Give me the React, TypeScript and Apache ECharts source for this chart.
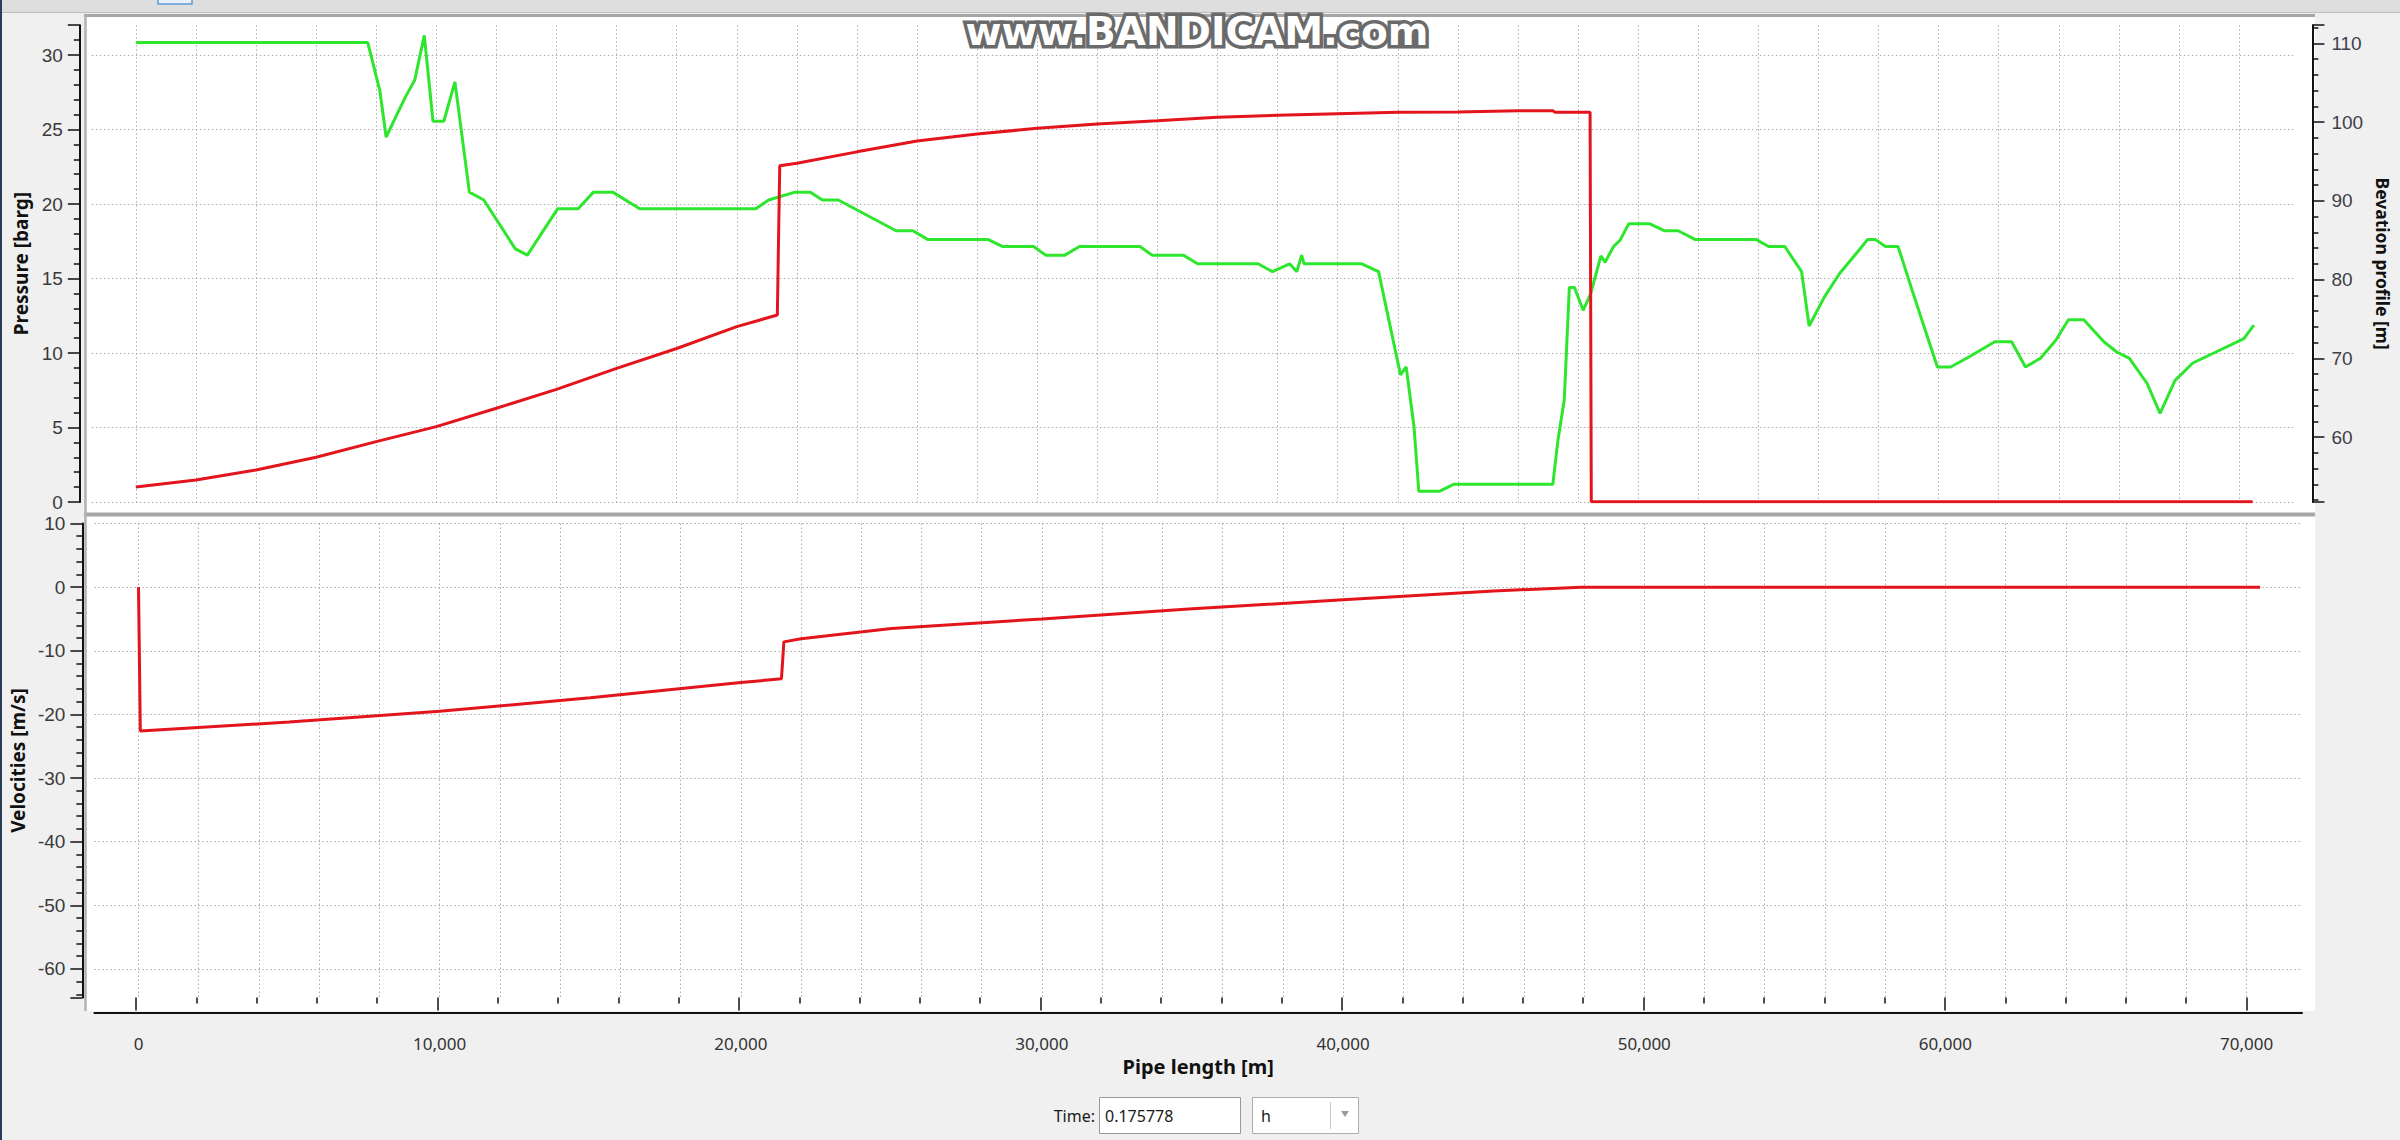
import React, { useEffect, useRef } from "react";
import * as echarts from "echarts";

// ---------------- data (pipe length [m], value) ----------------
const elevationProfile: [number, number][] = [
  [0, 110.1], [7720, 110.1], [8120, 104.0], [8330, 98.1], [8960, 103.1], [9280, 105.3],
  [9600, 111.0], [9890, 100.1], [10250, 100.1], [10620, 105.1], [11100, 91.1], [11580, 90.1],
  [12630, 83.9], [13030, 83.1], [14040, 89.0], [14720, 89.0], [15230, 91.1], [15870, 91.1],
  [16770, 89.0], [20630, 89.0], [21060, 90.1], [21940, 91.1], [22450, 91.1], [22850, 90.1],
  [23380, 90.1], [25300, 86.2], [25860, 86.2], [26350, 85.1], [28350, 85.1], [28840, 84.2],
  [29880, 84.2], [30280, 83.1], [30920, 83.1], [31410, 84.2], [33420, 84.2], [33820, 83.1],
  [34860, 83.1], [35340, 82.0], [37350, 82.0], [37830, 81.0], [38400, 82.0], [38640, 81.0],
  [38800, 83.1], [38880, 82.0], [40800, 82.0], [41360, 81.0], [42090, 67.9], [42280, 68.9],
  [42540, 61.3], [42700, 53.1], [43380, 53.1], [43860, 54.0], [47160, 54.0], [47330, 59.6],
  [47540, 64.7], [47710, 79.0], [47880, 79.0], [48170, 76.1], [48420, 78.2], [48760, 83.0],
  [48900, 82.2], [49180, 84.2], [49400, 85.0], [49690, 87.1], [50370, 87.1], [50870, 86.2],
  [51330, 86.2], [51890, 85.1], [53920, 85.1], [54340, 84.2], [54880, 84.2], [55440, 81.0],
  [55690, 74.1], [56200, 77.8], [56710, 80.8], [57300, 83.5], [57640, 85.1], [57890, 85.1],
  [58230, 84.2], [58650, 84.2], [59080, 79.1], [59500, 74.2], [59960, 68.9], [60400, 68.9],
  [61020, 70.2], [61870, 72.1], [62430, 72.1], [62890, 68.9], [63390, 70.0], [63900, 72.3],
  [64320, 74.9], [64830, 74.9], [65500, 72.1], [65930, 70.8], [66350, 70.0], [66940, 66.8],
  [67370, 63.0], [67870, 67.2], [68460, 69.4], [69230, 70.8], [70160, 72.5], [70490, 74.2],
];

const pressureProfile: [number, number][] = [
  [0, 1.0], [2000, 1.48], [4000, 2.15], [6000, 3.0], [8000, 4.05], [10000, 5.06],
  [12000, 6.29], [14000, 7.56], [16000, 8.97], [18000, 10.3], [20000, 11.77], [21350, 12.55],
  [21430, 22.57], [22000, 22.73], [24000, 23.5], [26000, 24.23], [28000, 24.7], [30000, 25.08],
  [32000, 25.37], [34000, 25.59], [36000, 25.82], [38000, 25.95], [40000, 26.06], [42000, 26.15],
  [44000, 26.17], [46000, 26.26], [47160, 26.26], [47240, 26.15], [48400, 26.15], [48440, 0.02],
  [70450, 0.02],
];

const velocityProfile: [number, number][] = [
  [0, 0], [60, -22.6], [5000, -21.2], [10000, -19.5], [15000, -17.4], [20000, -15.0],
  [21350, -14.4], [21430, -8.6], [22000, -8.1], [25000, -6.5], [30000, -5.0], [35000, -3.4],
  [40000, -2.0], [45000, -0.6], [47900, 0.0], [70450, 0.0],
];

// ---------------- styling ----------------
const FONT = "'Segoe UI', 'Noto Sans', 'Open Sans', sans-serif";
const LABEL_FONT = "'Liberation Sans', Arial, sans-serif";
const RED = "#e4141c";
const GREEN = "#2ee62e";
const GRID_COLOR = "#a9a9a9";
const AXIS_COLOR = "#111111";
const dotted = { color: GRID_COLOR, width: 1, type: [1.5, 2.5] as number[] };

const X_MIN = -1466;
const X_MAX = 71841;

function App() {
  const ref = useRef<HTMLDivElement>(null);

  useEffect(() => {
    const el = ref.current;
    if (!el) return;
    const chart = echarts.init(el, null, { renderer: "svg" });

    const yLabel = { fontSize: 19, lineHeight: 19, color: "#3a3a3a", fontFamily: LABEL_FONT };
    const nameStyle = { fontSize: 19, fontWeight: "bold", color: "#111", fontFamily: FONT };
    const tickStyle = { color: AXIS_COLOR, width: 1.5 };

    const option: any = {
      animation: false,
      backgroundColor: "#f0f0f0",
      grid: [
        { left: 91.8, width: 2210.2, top: 25.2, height: 476.8 },
        { left: 91.8, width: 2210.2, top: 523.5, height: 474.1 },
        { left: 136, width: 2110.5, top: 996.6, height: 1 },
      ],
      xAxis: [
        {
          type: "value", gridIndex: 0, min: X_MIN, max: X_MAX, splitNumber: 7,
          axisLine: { show: false }, axisTick: { show: false }, axisLabel: { show: false },
          splitLine: { show: true, showMinLine: false, showMaxLine: false, lineStyle: dotted },
          minorTick: { show: false, splitNumber: 5 },
          minorSplitLine: { show: true, lineStyle: dotted },
        },
        {
          type: "value", gridIndex: 1, min: X_MIN, max: X_MAX, splitNumber: 7, offset: 15.4,
          axisLine: { show: true, onZero: false, lineStyle: { color: AXIS_COLOR, width: 2 } },
          axisTick: { show: false },
          axisLabel: {
            show: true, margin: 22, fontSize: 17, color: "#333", fontFamily: FONT,
            showMinLabel: false, showMaxLabel: false,
            formatter: (v: number) => v.toLocaleString("en-US"),
          },
          splitLine: { show: true, showMinLine: false, showMaxLine: false, lineStyle: dotted },
          minorTick: { show: false, splitNumber: 5 },
          minorSplitLine: { show: true, lineStyle: dotted },
          name: "Pipe length [m]", nameLocation: "middle", nameGap: 43,
          nameTextStyle: { ...nameStyle, fontSize: 20 },
        },
        {
          type: "value", gridIndex: 2, min: 0, max: 70000, interval: 10000, offset: 15.4,
          axisLine: { show: false },
          axisTick: { show: true, length: 13, lineStyle: tickStyle },
          minorTick: { show: true, splitNumber: 5, length: 6, lineStyle: tickStyle },
          axisLabel: { show: false }, splitLine: { show: false },
        },
      ],
      yAxis: [
        {
          type: "value", gridIndex: 0, position: "left", min: 0, max: 32, interval: 5, offset: 12,
          axisLine: { show: true, onZero: false, lineStyle: { color: AXIS_COLOR, width: 2 } },
          axisTick: { show: true, length: 12, lineStyle: tickStyle },
          minorTick: { show: true, splitNumber: 5, length: 6, lineStyle: tickStyle },
          axisLabel: { ...yLabel, margin: 17, showMaxLabel: false },
          splitLine: { show: true, showMaxLine: false, lineStyle: dotted },
          name: "Pressure [barg]", nameLocation: "middle", nameGap: 47, nameTextStyle: nameStyle,
        },
        {
          type: "value", gridIndex: 0, position: "right", min: 51.75, max: 112.3, splitNumber: 6, offset: 18,
          axisLine: { show: true, onZero: false, lineStyle: { color: AXIS_COLOR, width: 2 } },
          axisTick: { show: true, length: 12, lineStyle: tickStyle },
          minorTick: { show: true, splitNumber: 5, length: 6, lineStyle: tickStyle },
          axisLabel: { ...yLabel, color: "#404048", margin: 19, showMinLabel: false, showMaxLabel: false },
          splitLine: { show: false },
          name: "Bevation profile [m]", nameLocation: "middle", nameGap: 55, nameRotate: -90,
          nameTextStyle: { ...nameStyle, fontSize: 17.5 },
        },
        {
          type: "value", gridIndex: 1, position: "left", min: -64.5, max: 10, splitNumber: 8, offset: 12,
          axisLine: { show: true, onZero: false, lineStyle: { color: AXIS_COLOR, width: 2 } },
          axisTick: { show: true, length: 12, lineStyle: tickStyle },
          minorTick: { show: true, splitNumber: 5, length: 6, lineStyle: tickStyle },
          axisLabel: { ...yLabel, margin: 17, showMinLabel: false },
          splitLine: { show: true, showMinLine: false, lineStyle: dotted },
          name: "Velocities [m/s]", nameLocation: "middle", nameGap: 55, nameTextStyle: nameStyle,
        },
        { type: "value", gridIndex: 2, show: false, min: 0, max: 1 },
      ],
      series: [
        {
          type: "line", name: "Elevation", xAxisIndex: 0, yAxisIndex: 1, data: elevationProfile,
          showSymbol: false, silent: true, z: 3,
          lineStyle: { color: GREEN, width: 3 }, itemStyle: { color: GREEN },
        },
        {
          type: "line", name: "Pressure", xAxisIndex: 0, yAxisIndex: 0, data: pressureProfile,
          showSymbol: false, silent: true, z: 4,
          lineStyle: { color: RED, width: 3 }, itemStyle: { color: RED },
        },
        {
          type: "line", name: "Velocity", xAxisIndex: 1, yAxisIndex: 2, data: velocityProfile,
          showSymbol: false, silent: true, z: 4,
          lineStyle: { color: RED, width: 3 }, itemStyle: { color: RED },
        },
      ],
      graphic: [
        // toolbar strip at the top
        { type: "rect", z: -5, silent: true, shape: { x: 0, y: 0, width: 2400, height: 12 }, style: { fill: "#dedede" } },
        { type: "line", z: -5, silent: true, shape: { x1: 0, y1: 12.5, x2: 2400, y2: 12.5 }, style: { stroke: "#bdbdbd", lineWidth: 1 } },
        { type: "rect", z: -5, silent: true, shape: { x: 158, y: -3, width: 34, height: 7 }, style: { fill: "#e8f1fb", stroke: "#5b9bd5", lineWidth: 1.5 } },
        // left dark border
        { type: "rect", z: -5, silent: true, shape: { x: 0, y: 0, width: 2, height: 1140 }, style: { fill: "#2b3d58" } },
        // plot frames
        { type: "rect", z: -5, silent: true, shape: { x: 86, y: 16, width: 2229, height: 497 }, style: { fill: "#ffffff" } },
        { type: "rect", z: -5, silent: true, shape: { x: 86, y: 516, width: 2229, height: 495 }, style: { fill: "#ffffff" } },
        { type: "line", z: -4, silent: true, shape: { x1: 84, y1: 15.5, x2: 2315, y2: 15.5 }, style: { stroke: "#a6a6a6", lineWidth: 3 } },
        { type: "line", z: -4, silent: true, shape: { x1: 84, y1: 514.5, x2: 2315, y2: 514.5 }, style: { stroke: "#a6a6a6", lineWidth: 4 } },
        { type: "line", z: -4, silent: true, shape: { x1: 85.5, y1: 15, x2: 85.5, y2: 1011 }, style: { stroke: "#b3b3b3", lineWidth: 2.5 } },
        // watermark
        {
          type: "text", z: 100, silent: true,
          style: {
            text: "www.BANDICAM.com", x: 1197, y: 31, align: "center", verticalAlign: "middle",
            textAlign: "center", textVerticalAlign: "middle",
            font: "bold 39px 'DejaVu Sans', sans-serif", fill: "#5a5a5a", stroke: "#6a6a6a", lineWidth: 7,
            shadowBlur: 8, shadowColor: "rgba(0,0,0,0.45)",
          },
        },
        {
          type: "text", z: 101, silent: true,
          style: {
            text: "www.BANDICAM.com", x: 1197, y: 31, align: "center", verticalAlign: "middle",
            textAlign: "center", textVerticalAlign: "middle",
            font: "bold 39px 'DejaVu Sans', sans-serif", fill: "#ffffff",
          },
        },
        // time control
        {
          type: "text", silent: true,
          style: {
            text: "Time:", x: 1095, y: 1116, align: "right", verticalAlign: "middle",
            textAlign: "right", textVerticalAlign: "middle",
            font: `16px ${FONT}`, fill: "#1a1a1a",
          },
        },
        { type: "rect", silent: true, shape: { x: 1099.5, y: 1097.5, width: 141, height: 36 }, style: { fill: "#ffffff", stroke: "#9a9a9a", lineWidth: 1 } },
        {
          type: "text", silent: true,
          style: {
            text: "0.175778", x: 1105, y: 1116, align: "left", verticalAlign: "middle",
            textAlign: "left", textVerticalAlign: "middle",
            font: `16px ${FONT}`, fill: "#1a1a1a",
          },
        },
        { type: "rect", silent: true, shape: { x: 1252.5, y: 1097.5, width: 106, height: 36 }, style: { fill: "#ffffff", stroke: "#acacac", lineWidth: 1 } },
        {
          type: "text", silent: true,
          style: {
            text: "h", x: 1261, y: 1116, align: "left", verticalAlign: "middle",
            textAlign: "left", textVerticalAlign: "middle",
            font: `16px ${FONT}`, fill: "#1a1a1a",
          },
        },
        { type: "line", silent: true, shape: { x1: 1330.5, y1: 1102, x2: 1330.5, y2: 1129 }, style: { stroke: "#c8c8c8", lineWidth: 1 } },
        { type: "polygon", silent: true, shape: { points: [[1341, 1111], [1349, 1111], [1345, 1117]] }, style: { fill: "#9a9a9a" } },
      ],
    };

    chart.setOption(option);
    return () => chart.dispose();
  }, []);

  return (
    <div
      ref={ref}
      style={{ position: "absolute", left: 0, top: 0, width: 2400, height: 1140, background: "#f0f0f0" }}
    />
  );
}

export default App;
